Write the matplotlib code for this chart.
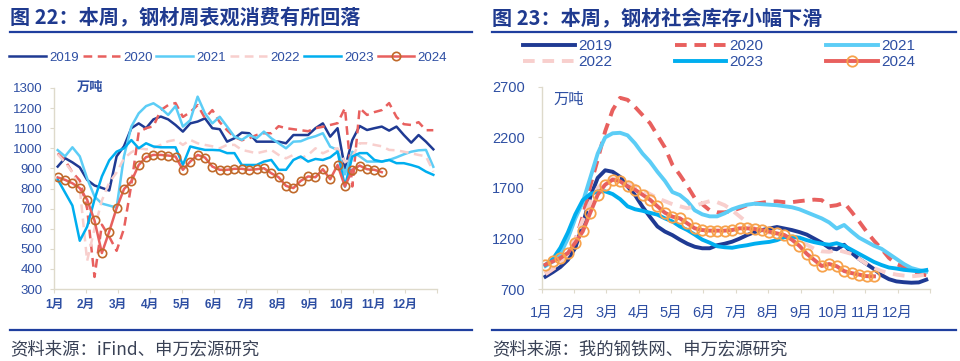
import numpy as np
import matplotlib
matplotlib.use("Agg")
from matplotlib import pyplot as plt
from matplotlib.lines import Line2D

plt.rcParams['font.family'] = ['Liberation Sans', 'Noto Sans CJK SC', 'DejaVu Sans']

months = ['1月', '2月', '3月', '4月', '5月', '6月', '7月', '8月', '9月', '10月', '11月', '12月']
years = ['2019', '2020', '2021', '2022', '2023', '2024']

# 图22 钢材周表观消费（万吨），按周
cons_2019 = [909, 951, 930, 905, 843, 815, 803, 790, 960, 1010, 1100, 1124, 1100, 1144, 1158, 1144,
             1116, 1083, 1124, 1133, 1149, 1100, 1095, 1033, 1050, 1078, 1075, 1033, 1033, 1033, 1033, 1025,
             1066, 1066, 1066, 1100, 1124, 1058, 1100, 900, 1041, 1111, 1091, 1100, 1108, 1088,
             1108, 1066, 1028, 1066, 1033, 995]
cons_2020 = [975, 940, 880, 840, 700, 360, 620, 560, 490, 600, 820, 1080, 1100, 1110, 1190, 1215,
             1225, 1156, 1180, 1215, 1150, 1190, 1130, 1090, 1056, 1040, 1050, 1066, 1075, 1075, 1110, 1100,
             1095, 1090, 1085, 1100, 1107, 1116, 1125, 1200, 810, 1200, 1166, 1180, 1190, 1225,
             1156, 1120, 1116, 1130, 1090, 1090]
cons_2021 = [991, 960, 1005, 960, 850, 760, 725, 715, 705, 960, 1108, 1174, 1210, 1224, 1200, 1166,
             1210, 1108, 1140, 1257, 1174, 1124, 1157, 1108, 1058, 1042, 1066, 1050, 1083, 1050, 1025, 1000,
             1033, 1035, 1050, 1060, 1075, 1008, 992, 870, 983, 960, 934, 934, 934, 942,
             955, 970, 983, 990, 992, 908]
cons_2022 = [970, 930, 880, 800, 440, 600, 740, 830, 880, 950, 980, 1000, 995, 1000, 1017, 1035,
             1042, 1017, 1042, 1025, 1017, 1010, 1000, 1017, 1017, 992, 984, 975, 984, 992, 967, 950,
             967, 950, 967, 1000, 975, 992, 1000, 930, 958, 1025, 1025, 1017, 1010, 992,
             990, 983, 975, 967, 960, 884]
cons_2023 = [845, 780, 715, 540, 610, 745, 860, 940, 983, 1000, 1041, 1000, 1025, 1009, 1005, 1005,
             1005, 917, 1009, 1000, 992, 992, 990, 976, 976, 917, 917, 917, 934, 942, 893, 893,
             942, 959, 934, 947, 942, 955, 984, 810, 959, 976, 976, 942, 934, 942,
             926, 926, 917, 906, 884, 868]
cons_2024 = [855, 843, 826, 802, 744, 641, 479, 586, 702, 797, 835, 917, 956, 967, 967, 964,
             959, 893, 934, 967, 954, 909, 893, 893, 898, 898, 893, 896, 901, 876, 856, 813,
             802, 838, 860, 856, 896, 846, 917, 810, 893, 914, 896, 893, 881]

# 图23 钢材社会库存（万吨），按周
inv_2019 = [825, 870, 920, 990, 1110, 1340, 1610, 1800, 1875, 1860, 1810, 1715, 1630, 1515, 1415, 1320,
            1270, 1235, 1190, 1150, 1120, 1105, 1105, 1135, 1150, 1170, 1200, 1235, 1265, 1285, 1300, 1315,
            1300, 1285, 1265, 1240, 1200, 1160, 1110, 1095, 1140, 1060, 1000, 950, 900, 840,
            800, 778, 770, 765, 768, 795]
inv_2020 = [850, 900, 960, 1060, 1180, 1420, 1720, 1980, 2260, 2470, 2590, 2570, 2500, 2420, 2340, 2220,
            2100, 1930, 1830, 1720, 1600, 1540, 1480, 1460, 1460, 1475, 1500, 1530, 1545, 1555, 1565, 1568,
            1560, 1560, 1570, 1578, 1585, 1580, 1520, 1530, 1555, 1465, 1370, 1270, 1180, 1100,
            1010, 950, 920, 880, 850, 840]
inv_2021 = [930, 975, 1050, 1200, 1400, 1560, 1800, 2040, 2200, 2240, 2245, 2220, 2140, 2040, 1960, 1860,
            1770, 1660, 1630, 1570, 1480, 1440, 1420, 1420, 1450, 1490, 1515, 1535, 1545, 1540, 1535, 1530,
            1520, 1510, 1490, 1460, 1430, 1400, 1360, 1300, 1335, 1270, 1210, 1170, 1130, 1100,
            1050, 1000, 950, 910, 890, 875]
inv_2022 = [850, 900, 950, 1050, 1200, 1380, 1560, 1700, 1770, 1790, 1790, 1760, 1720, 1680, 1640, 1600,
            1570, 1540, 1520, 1500, 1520, 1550, 1570, 1560, 1530, 1480, 1420, 1360, 1300, 1270, 1260, 1250,
            1230, 1200, 1170, 1140, 1100, 1075, 1070, 1090, 1070, 1050, 1000, 950, 910, 880,
            860, 845, 835, 828, 835, 845]
inv_2023 = [940, 1000, 1110, 1260, 1440, 1580, 1640, 1665, 1667, 1640, 1590, 1519, 1490, 1475, 1455, 1437,
            1400, 1370, 1321, 1285, 1240, 1190, 1160, 1125, 1115, 1110, 1124, 1135, 1150, 1160, 1168, 1185,
            1215, 1220, 1210, 1185, 1165, 1150, 1140, 1155, 1130, 1090, 1050, 1010, 970, 940,
            915, 905, 892, 885, 877, 890]
inv_2024 = [943, 976, 1009, 1058, 1160, 1272, 1456, 1634, 1733, 1782, 1766, 1716, 1683, 1634, 1585, 1519,
            1456, 1417, 1401, 1351, 1302, 1285, 1279, 1279, 1279, 1285, 1302, 1302, 1295, 1285, 1269, 1252,
            1236, 1190, 1130, 1050, 990, 930, 950, 928, 880, 860, 845, 830, 828]

NAVY = '#1F3A93'
RED = '#E8605E'
LCYAN = '#5CCDF6'
PINK = '#F8CFCD'
CYAN = '#00AEEF'
TXT = '#2E4FA3'
RULE = '#1F3F9F'
SPINE = '#DEDACB'

fig = plt.figure(figsize=(9.6, 3.61), dpi=100)


def style_axis(ax, ylim, yticks, ylab_size, xlab_size, xpad, xbold):
    ax.set_xlim(0, 52)
    ax.set_ylim(*ylim)
    ax.set_yticks(yticks)
    ax.set_xticks(np.linspace(0, 52, 13))
    ax.set_xticklabels(months + [''])
    for s in ['top', 'right']:
        ax.spines[s].set_visible(False)
    for s in ['left', 'bottom']:
        ax.spines[s].set_color(SPINE)
        ax.spines[s].set_linewidth(1.0)
    ax.tick_params(axis='y', colors=SPINE, labelcolor=TXT, labelsize=ylab_size, length=3, pad=5)
    ax.tick_params(axis='x', colors=SPINE, labelcolor=TXT, labelsize=xlab_size, length=3, pad=xpad)
    if xbold:
        for t in ax.get_xticklabels():
            t.set_fontweight('bold')


# ---- left panel ----
ax1 = fig.add_axes([54 / 960, 72 / 361, 383 / 960, 201 / 361])
lw = 1.8
x = np.arange(52) + 0.5
ax1.plot(x, cons_2019, color=NAVY, lw=lw, label='2019')
ax1.plot(x, cons_2020, color=RED, lw=lw, dashes=(3.5, 2.2), label='2020')
ax1.plot(x, cons_2021, color=LCYAN, lw=lw, label='2021')
ax1.plot(x, cons_2022, color=PINK, lw=lw, dashes=(3.5, 2.2), label='2022')
ax1.plot(x, cons_2023, color=CYAN, lw=lw, label='2023')
ax1.plot(np.arange(len(cons_2024)) + 0.5, cons_2024, color=RED, lw=lw, marker='o', ms=6,
         mfc='none', mec='#C0692A', mew=1.2, label='2024')
style_axis(ax1, (300, 1300), np.arange(300, 1301, 100), 9.5, 8.5, 4, True)
ax1.text(0.06, 1.0, '万吨', transform=ax1.transAxes, color=TXT, fontsize=9.5, va='center',
         fontweight='bold')
fig.legend(*ax1.get_legend_handles_labels(), loc='center', bbox_to_anchor=(228 / 960, 1 - 58 / 361),
           ncol=6, frameon=False, fontsize=9.5, handlelength=2.8, handletextpad=0.25,
           columnspacing=0.3, labelcolor=TXT)

# ---- right panel ----
ax2 = fig.add_axes([541.7 / 960, 71.7 / 361, 388.3 / 960, 202.6 / 361])
lw2 = 2.8
ax2.plot(x, inv_2019, color=NAVY, lw=lw2, label='2019')
ax2.plot(x, inv_2020, color=RED, lw=lw2, dashes=(3, 2), label='2020')
ax2.plot(x, inv_2021, color=LCYAN, lw=lw2, label='2021')
ax2.plot(x, inv_2022, color=PINK, lw=lw2, dashes=(3, 2), label='2022')
ax2.plot(x, inv_2023, color=CYAN, lw=lw2, label='2023')
ax2.plot(np.arange(len(inv_2024)) + 0.5, inv_2024, color=RED, lw=lw2, marker='o', ms=7.5,
         mfc='none', mec='#F7A24B', mew=1.3, label='2024')
style_axis(ax2, (700, 2700), [700, 1200, 1700, 2200, 2700], 10.5, 10.5, 9, False)
ax2.tick_params(axis='y', pad=9)
ax2.text(0.03, 0.935, '万吨', transform=ax2.transAxes, color=TXT, fontsize=11, va='center')
# legend fills column by column, so reorder to read row by row
h2, l2 = ax2.get_legend_handles_labels()
order = [0, 3, 1, 4, 2, 5]
fig.legend([h2[i] for i in order], [l2[i] for i in order], loc='center',
           bbox_to_anchor=(719 / 960, 1 - 54 / 361),
           ncol=3, frameon=False, fontsize=11, handlelength=3.4, handletextpad=0.2,
           columnspacing=4.1, labelcolor=TXT, labelspacing=0.15)

# ---- titles, rules, sources ----
fig.text(10 / 960, 1 - 18 / 361, '图 22：本周，钢材周表观消费有所回落', fontsize=14.5, fontweight='bold',
         color='#1F3A8F', va='center', family=['Noto Sans CJK SC', 'DejaVu Sans'])
fig.text(492 / 960, 1 - 18 / 361, '图 23：本周，钢材社会库存小幅下滑', fontsize=14.5, fontweight='bold',
         color='#1F3A8F', va='center', family=['Noto Sans CJK SC', 'DejaVu Sans'])
for x0, x1 in [(10, 472), (492, 956)]:
    fig.add_artist(Line2D([x0 / 960, x1 / 960], [1 - 32 / 361] * 2, color=RULE, lw=1.6))
    fig.add_artist(Line2D([x0 / 960, x1 / 960], [1 - 330 / 361] * 2, color=RULE, lw=1.6))
fig.text(10 / 960, 1 - 349 / 361, '资料来源：iFind、申万宏源研究', fontsize=12.5, color='#3A4256',
         va='center', family=['Noto Sans CJK SC', 'DejaVu Sans'])
fig.text(492 / 960, 1 - 349 / 361, '资料来源：我的钢铁网、申万宏源研究', fontsize=12.5, color='#3A4256',
         va='center', family=['Noto Sans CJK SC', 'DejaVu Sans'])

fig.savefig('out.png', dpi=100)
